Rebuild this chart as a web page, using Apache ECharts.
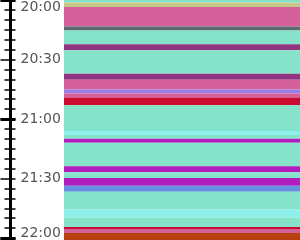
<!DOCTYPE html>
<html>
<head>
<meta charset="utf-8">
<script src="https://cdn.jsdelivr.net/npm/echarts@6/dist/echarts.min.js"></script>
<style>
  html, body { margin: 0; padding: 0; background: #fff; }
  #chart { width: 300px; height: 240px; }
</style>
</head>
<body>
<div id="chart"></div>
<script>
// segments, minutes after 20:00
const segStart = [0, 1.3, 3.5, 13.4, 15.4, 22.3, 25.3, 37.2, 40.2, 45.1, 47.1, 49.1, 53.1, 66, 68, 70, 72, 83.8, 86.8, 89.8, 93.7, 96.7, 105.6, 109.6, 114.5, 115.5, 117.5];
const segEnd   = [1.3, 3.5, 13.4, 15.4, 22.3, 25.3, 37.2, 40.2, 45.1, 47.1, 49.1, 53.1, 66, 68, 70, 72, 83.8, 86.8, 89.8, 93.7, 96.7, 105.6, 109.6, 114.5, 115.5, 117.5, 121];
const segState = ['A', 'B', 'C', 'D', 'A', 'E', 'A', 'E', 'C', 'F', 'C', 'G', 'A', 'H', 'A', 'I', 'A', 'I', 'A', 'I', 'J', 'A', 'H', 'A', 'G', 'C', 'K'];
const tickLabels = ['20:00', '20:30', '21:00', '21:30', '22:00'];

const stateColors = {
    A: '#85e3c9', B: '#c4c98a', C: '#d5619b', D: '#5c6b70', E: '#8f3581',
    F: '#9b7de6', G: '#cb0a30', H: '#8ef0ec', I: '#b11cbe', J: '#6592e0', K: '#b8400e'
};

const chart = echarts.init(document.getElementById('chart'));

const axisBase = {
    type: 'value', min: 0, max: 121, inverse: true,
    position: 'left', offset: 53.5,
    splitLine: { show: false }
};

const option = {
    animation: false,
    grid: { left: 64, right: 0, top: -1, bottom: -1 },
    xAxis: { type: 'value', min: 0, max: 1, show: false },
    yAxis: [
        Object.assign({}, axisBase, {
            interval: 30,
            axisLine: { show: true, onZero: false, lineStyle: { color: '#000', width: 3 } },
            axisTick: { show: true, inside: false, length: 10, lineStyle: { color: '#000', width: 1.5 } },
            minorTick: { show: true, splitNumber: 6, length: 6, lineStyle: { color: '#000', width: 1.5 } },
            axisLabel: {
                inside: true, margin: 10, fontSize: 14, color: '#555', fontFamily: 'DejaVu Sans',
                showMinLabel: true, showMaxLabel: true,
                verticalAlignMinLabel: 'top', verticalAlignMaxLabel: 'bottom',
                formatter: v => tickLabels[Math.round(v / 30)] || ''
            }
        }),
        Object.assign({}, axisBase, {
            interval: 5,
            axisLine: { show: false, onZero: false },
            axisTick: { show: true, inside: true, length: 5, lineStyle: { color: '#000', width: 1.5 } },
            axisLabel: { show: false }
        }),
        Object.assign({}, axisBase, {
            interval: 60,
            axisLine: { show: false, onZero: false },
            axisTick: { show: true, inside: false, length: 10, lineStyle: { color: '#000', width: 3 } },
            axisLabel: { show: false }
        }),
        Object.assign({}, axisBase, {
            interval: 60,
            axisLine: { show: false, onZero: false },
            axisTick: { show: true, inside: true, length: 5, lineStyle: { color: '#000', width: 3 } },
            axisLabel: { show: false }
        })
    ],
    series: [{
        type: 'custom',
        yAxisIndex: 0,
        clip: true,
        data: segStart.map((s, i) => [s, segEnd[i], segState[i]]),
        renderItem: function (params, api) {
            const cs = params.coordSys;
            const y0 = api.coord([0, api.value(0)])[1];
            const y1 = api.coord([0, api.value(1)])[1];
            return {
                type: 'rect',
                shape: { x: cs.x, y: y0, width: cs.width, height: y1 - y0 },
                style: { fill: stateColors[segState[params.dataIndex]] }
            };
        }
    }]
};

chart.setOption(option);
</script>
</body>
</html>
